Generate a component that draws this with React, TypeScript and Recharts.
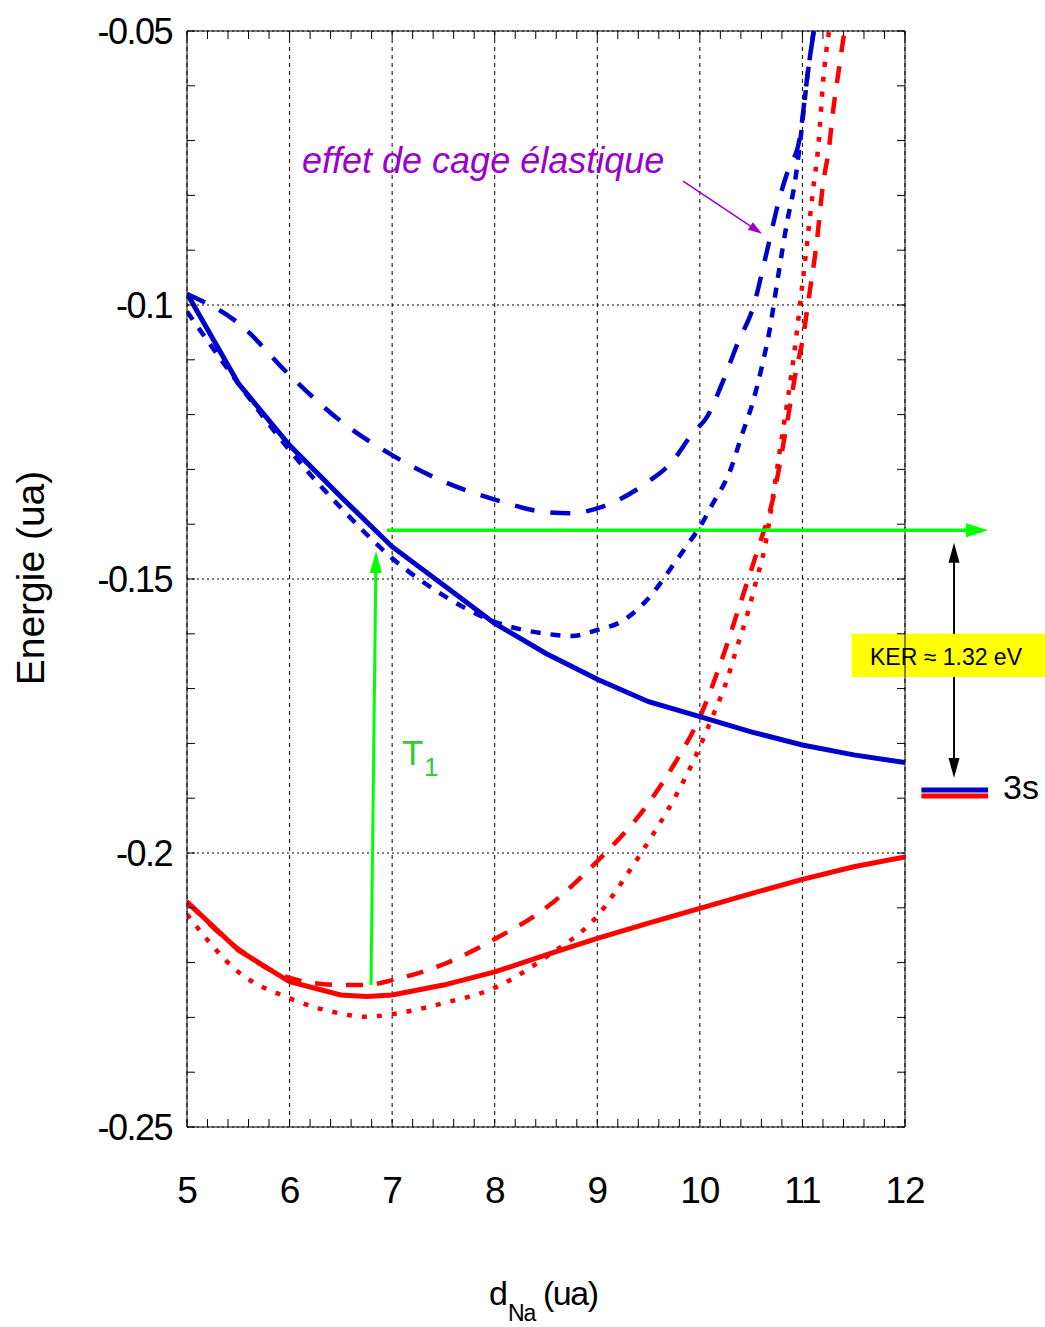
import React from "react";
import { LineChart, Line, XAxis, YAxis, CartesianGrid, ReferenceLine, ReferenceArea } from "recharts";

const FONT = "'Liberation Sans', Arial, Helvetica, sans-serif";
const BLUE = "#0000cc";
const RED = "#ff0000";
const GREEN = "#00ff00";
const PURPLE = "#9900cc";

// ---------- axis ticks ----------
const X_TICKS = [5, 6, 7, 8, 9, 10, 11, 12];
const Y_TICKS = [-0.25, -0.2, -0.15, -0.1, -0.05];
const Y_TICK_LABELS = ["-0.25", "-0.2", "-0.15", "-0.1", "-0.05"];
const X_MINOR = [5, 5.2, 5.4, 5.6, 5.8, 6, 6.2, 6.4, 6.6, 6.8, 7, 7.2, 7.4, 7.6, 7.8, 8, 8.2, 8.4, 8.6, 8.8, 9, 9.2, 9.4, 9.6, 9.8, 10, 10.2, 10.4, 10.6, 10.8, 11, 11.2, 11.4, 11.6, 11.8, 12];
const Y_MINOR = [-0.25, -0.24, -0.23, -0.22, -0.21, -0.2, -0.19, -0.18, -0.17, -0.16, -0.15, -0.14, -0.13, -0.12, -0.11, -0.1, -0.09, -0.08, -0.07, -0.06, -0.05];
const X_DOMAIN = [5, 12];
const Y_DOMAIN = [-0.25, -0.05];

// ---------- series ----------
const blueSolidX = [5, 5.5, 6, 6.5, 7, 7.5, 8, 8.5, 9, 9.5, 10, 10.5, 11, 11.5, 12];
const blueSolidY = [-0.0979, -0.1143, -0.1256, -0.135, -0.1441, -0.1511, -0.1581, -0.1636, -0.1683, -0.1724, -0.1751, -0.1779, -0.1803, -0.1821, -0.1835];

const blueDashedX = [5, 5.5, 6, 6.5, 7, 7.5, 8, 8.5, 8.75, 9, 9.5, 9.72, 9.93, 10.07, 10.23, 10.37, 10.52, 10.65, 10.78, 10.86, 10.97, 11.05, 11.11];
const blueDashedY = [-0.098, -0.1033, -0.1128, -0.1212, -0.1274, -0.1322, -0.1355, -0.1378, -0.138, -0.1371, -0.1322, -0.1288, -0.1234, -0.1204, -0.1137, -0.1069, -0.1004, -0.0905, -0.0803, -0.0754, -0.0699, -0.058, -0.05];

const blueDottedX = [5, 5.5, 6, 6.5, 7, 7.5, 8, 8.5, 8.75, 9, 9.25, 9.5, 9.76, 9.9, 10, 10.13, 10.29, 10.41, 10.52, 10.61, 10.68, 10.76, 10.85, 10.93, 10.98, 11.05, 11.11];
const blueDottedY = [-0.1012, -0.1143, -0.1265, -0.137, -0.1462, -0.153, -0.1578, -0.16, -0.1604, -0.1593, -0.1576, -0.1535, -0.1469, -0.1432, -0.1405, -0.1361, -0.1305, -0.1237, -0.1175, -0.1108, -0.1046, -0.0951, -0.0849, -0.0772, -0.0699, -0.058, -0.05];

const redSolidX = [5, 5.5, 6, 6.5, 6.75, 7, 7.5, 8, 8.5, 9, 9.5, 10, 10.5, 11, 11.5, 12];
const redSolidY = [-0.2089, -0.2177, -0.2235, -0.2259, -0.2262, -0.2259, -0.2241, -0.2217, -0.2186, -0.2156, -0.2128, -0.2101, -0.2074, -0.2048, -0.2025, -0.2007];

const redDashedX = [5, 5.5, 6, 6.5, 6.75, 7, 7.5, 8, 8.5, 9, 9.5, 9.75, 10, 10.22, 10.39, 10.57, 10.71, 10.85, 10.93, 11.01, 11.06, 11.14, 11.2, 11.26, 11.3, 11.35, 11.41];
const redDashedY = [-0.2089, -0.2175, -0.2228, -0.2241, -0.2241, -0.2232, -0.2203, -0.2157, -0.21, -0.2015, -0.1909, -0.1838, -0.1752, -0.1644, -0.1547, -0.1443, -0.1356, -0.1215, -0.1128, -0.1055, -0.099, -0.0885, -0.0781, -0.0712, -0.0644, -0.0577, -0.05];

const redDottedX = [5, 5.5, 6, 6.5, 6.75, 7, 7.5, 8, 8.5, 9, 9.34, 9.56, 9.77, 9.95, 10.11, 10.25, 10.36, 10.47, 10.56, 10.61, 10.78, 10.94, 10.98, 11.04, 11.1, 11.16, 11.2, 11.26];
const redDottedY = [-0.2112, -0.2217, -0.2265, -0.2293, -0.2299, -0.2294, -0.2274, -0.2246, -0.219, -0.2115, -0.2025, -0.1961, -0.1894, -0.1827, -0.1757, -0.1692, -0.1626, -0.156, -0.1496, -0.1462, -0.1265, -0.1058, -0.0994, -0.0896, -0.0796, -0.0699, -0.0595, -0.05];

// ---------- annotations (data coordinates) ----------
const T1_ARROW = [{ x: 6.794, y: -0.2241 }, { x: 6.843, y: -0.1449 }];
const KER_LEVEL = [{ x: 6.95, y: -0.1411 }, { x: 12.81, y: -0.1411 }];
const KER_UP = [{ x: 12.478, y: -0.16 }, { x: 12.478, y: -0.1434 }];
const KER_DOWN = [{ x: 12.478, y: -0.1679 }, { x: 12.478, y: -0.1863 }];
const CAGE_ARROW = [{ x: 9.836, y: -0.0774 }, { x: 10.606, y: -0.087 }];
const LEVEL_3S_BLUE = [{ x: 12.16, y: -0.1885 }, { x: 12.81, y: -0.1885 }];
const LEVEL_3S_RED = [{ x: 12.16, y: -0.1896 }, { x: 12.81, y: -0.1896 }];
const KER_BOX = { x1: 11.48, x2: 13.365, y1: -0.16, y2: -0.1679 };

const toPoints = (xs: number[], ys: number[]) => xs.map((x, i) => ({ x, y: ys[i] }));
const isMajor = (v: number, list: number[]) => list.some((t) => Math.abs(t - v) < 1e-9);

function Arrow(props: any) {
  const { x1, y1, x2, y2, color, width, headLen, headWid } = props;
  const dx = x2 - x1;
  const dy = y2 - y1;
  const len = Math.hypot(dx, dy) || 1;
  const ux = dx / len;
  const uy = dy / len;
  const px = -uy;
  const py = ux;
  const bx = x2 - ux * headLen;
  const by = y2 - uy * headLen;
  const pts = `${x2},${y2} ${bx + (px * headWid) / 2},${by + (py * headWid) / 2} ${bx - (px * headWid) / 2},${by - (py * headWid) / 2}`;
  return (
    <g>
      <line x1={x1} y1={y1} x2={x2 - ux * headLen * 0.7} y2={y2 - uy * headLen * 0.7} stroke={color} strokeWidth={width} />
      <polygon points={pts} fill={color} stroke="none" />
    </g>
  );
}

const arrowShape = (color: string, width: number, headLen: number, headWid: number) => (p: any) => (
  <Arrow x1={p.x1} y1={p.y1} x2={p.x2} y2={p.y2} color={color} width={width} headLen={headLen} headWid={headWid} />
);

// tick mark drawn inward from the top / right frame (8 px long)
const topTickShape = (p: any) => <line x1={p.x1} y1={p.y1} x2={p.x1} y2={p.y1 + 8} stroke="#000" strokeWidth={1} />;
const rightTickShape = (p: any) => <line x1={p.x2} y1={p.y1} x2={p.x2 - 8} y2={p.y1} stroke="#000" strokeWidth={1} />;

const XTick = (p: any) => {
  const v = p.payload.value;
  if (!isMajor(v, X_TICKS)) return <g />;
  return (
    <text x={p.x} y={p.y + 84} textAnchor="middle" fontSize={37} fontFamily={FONT} fill="#000" letterSpacing={-1}>
      {v}
    </text>
  );
};

const YTick = (p: any) => {
  const v = p.payload.value;
  let idx = -1;
  Y_TICKS.forEach((t, i) => {
    if (Math.abs(t - v) < 1e-9) idx = i;
  });
  if (idx < 0) return <g />;
  return (
    <text x={p.x - 23} y={p.y + 13} textAnchor="end" fontSize={36} fontFamily={FONT} fill="#000" letterSpacing={-1.5}>
      {Y_TICK_LABELS[idx]}
    </text>
  );
};

export default function App() {
  return (
    <div style={{ position: "absolute", left: 0, top: 0, width: 1045, height: 1327, background: "#fff" }}>
      <LineChart width={1045} height={1327} margin={{ top: 31, right: 140, bottom: 140, left: 107 }}>
        <CartesianGrid horizontal={false} verticalValues={X_TICKS} stroke="#000" strokeDasharray="4 4" strokeWidth={1} />
        <CartesianGrid vertical={false} horizontalValues={Y_TICKS} stroke="#000" strokeDasharray="2 3" strokeWidth={1} />
        <XAxis
          dataKey="x"
          type="number"
          domain={X_DOMAIN}
          ticks={X_MINOR}
          interval={0}
          allowDataOverflow
          height={60}
          tickSize={-8}
          tickMargin={0}
          tickLine={{ stroke: "#000", strokeWidth: 1 }}
          axisLine={{ stroke: "#000", strokeWidth: 1 }}
          tick={<XTick />}
        />
        <YAxis
          type="number"
          domain={Y_DOMAIN}
          ticks={Y_MINOR}
          interval={0}
          allowDataOverflow
          width={80}
          tickSize={-8}
          tickMargin={0}
          tickLine={{ stroke: "#000", strokeWidth: 1 }}
          axisLine={{ stroke: "#000", strokeWidth: 1 }}
          tick={<YTick />}
        />

        {X_MINOR.map((v) => (
          <ReferenceLine key={`tt${v}`} segment={[{ x: v, y: Y_DOMAIN[1] }, { x: v, y: Y_DOMAIN[1] }]} ifOverflow="visible" shape={topTickShape} />
        ))}
        {Y_MINOR.map((v) => (
          <ReferenceLine key={`rt${v}`} segment={[{ x: X_DOMAIN[1], y: v }, { x: X_DOMAIN[1], y: v }]} ifOverflow="visible" shape={rightTickShape} />
        ))}
        <ReferenceLine segment={[{ x: X_DOMAIN[0], y: Y_DOMAIN[1] }, { x: X_DOMAIN[1], y: Y_DOMAIN[1] }]} ifOverflow="visible" stroke="#000" strokeWidth={1} strokeDasharray="none" />
        <ReferenceLine segment={[{ x: X_DOMAIN[1], y: Y_DOMAIN[0] }, { x: X_DOMAIN[1], y: Y_DOMAIN[1] }]} ifOverflow="visible" stroke="#000" strokeWidth={1} strokeDasharray="none" />

        <ReferenceLine segment={KER_UP} ifOverflow="visible" shape={arrowShape("#000", 2, 20, 11)} />
        <ReferenceLine segment={KER_DOWN} ifOverflow="visible" shape={arrowShape("#000", 2, 20, 11)} />
        <ReferenceArea x1={KER_BOX.x1} x2={KER_BOX.x2} y1={KER_BOX.y1} y2={KER_BOX.y2} fill="#ffff00" fillOpacity={1} stroke="none" ifOverflow="visible" />

        <Line data={toPoints(redSolidX, redSolidY)} dataKey="y" type="linear" stroke={RED} strokeWidth={5} dot={false} isAnimationActive={false} />
        <Line data={toPoints(redDashedX, redDashedY)} dataKey="y" type="monotone" stroke={RED} strokeWidth={4.5} strokeDasharray="17 14" dot={false} isAnimationActive={false} />
        <Line data={toPoints(redDottedX, redDottedY)} dataKey="y" type="monotone" stroke={RED} strokeWidth={4.5} strokeDasharray="5 10" dot={false} isAnimationActive={false} />
        <Line data={toPoints(blueSolidX, blueSolidY)} dataKey="y" type="linear" stroke={BLUE} strokeWidth={5} dot={false} isAnimationActive={false} />
        <Line data={toPoints(blueDashedX, blueDashedY)} dataKey="y" type="monotone" stroke={BLUE} strokeWidth={4.5} strokeDasharray="20 16" dot={false} isAnimationActive={false} />
        <Line data={toPoints(blueDottedX, blueDottedY)} dataKey="y" type="monotone" stroke={BLUE} strokeWidth={4.5} strokeDasharray="10 10" dot={false} isAnimationActive={false} />

        <ReferenceLine segment={T1_ARROW} ifOverflow="visible" shape={arrowShape(GREEN, 3, 22, 12)} />
        <ReferenceLine segment={KER_LEVEL} ifOverflow="visible" shape={arrowShape(GREEN, 3.5, 22, 14)} />
        <ReferenceLine segment={CAGE_ARROW} ifOverflow="visible" shape={arrowShape(PURPLE, 1.5, 14, 9)} />
        <ReferenceLine segment={LEVEL_3S_BLUE} ifOverflow="visible" stroke={BLUE} strokeWidth={5} />
        <ReferenceLine segment={LEVEL_3S_RED} ifOverflow="visible" stroke={RED} strokeWidth={5} />
      </LineChart>

      <svg width={1045} height={1327} style={{ position: "absolute", left: 0, top: 0, pointerEvents: "none" }} fontFamily={FONT}>
        <text x={302} y={173} fontSize={36} fontStyle="italic" fill={PURPLE}>effet de cage élastique</text>
        <text x={402} y={765} fontSize={35} fill="#33cc33">T</text>
        <text x={424} y={776} fontSize={26} fill="#33cc33">1</text>
        <text x={946} y={665} fontSize={23} textAnchor="middle" fill="#000">KER ≈ 1.32 eV</text>
        <text x={1003} y={799} fontSize={34} fill="#000">3s</text>
        <text x={489} y={1305} fontSize={34} fill="#000" letterSpacing={-1}>d</text>
        <text x={508} y={1321} fontSize={23} fill="#000" letterSpacing={-1}>Na</text>
        <text x={543} y={1305} fontSize={34} fill="#000" letterSpacing={-1.5}>(ua)</text>
        <text transform="translate(44,578) rotate(-90)" textAnchor="middle" fontSize={39} fill="#000" letterSpacing={0}>Energie (ua)</text>
      </svg>
    </div>
  );
}
